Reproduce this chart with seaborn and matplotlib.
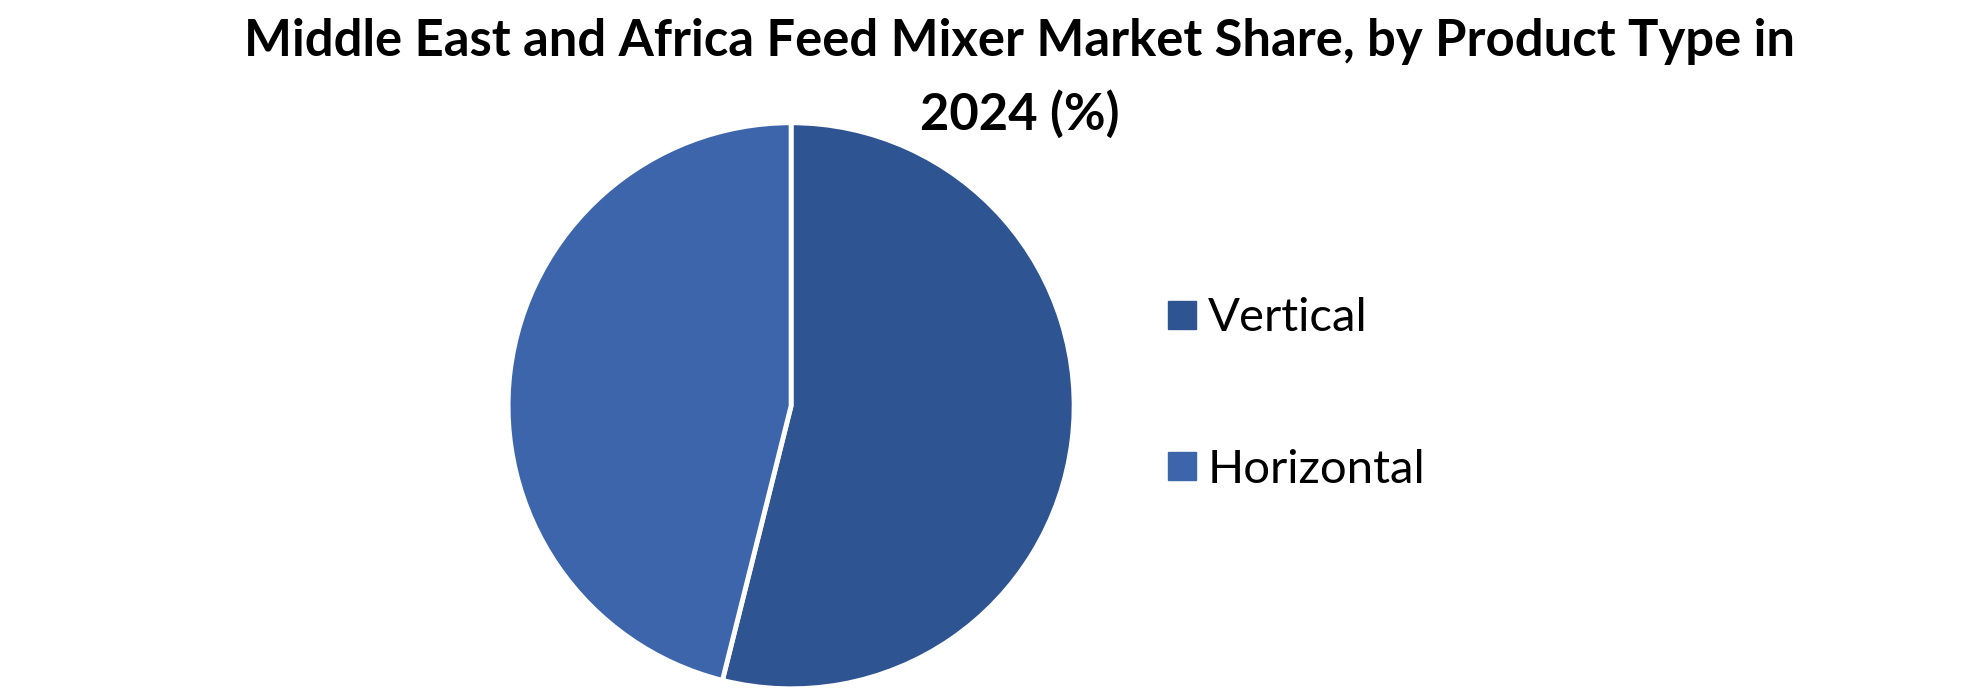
import matplotlib
matplotlib.use('Agg')
import matplotlib.pyplot as plt
import seaborn as sns
from matplotlib.lines import Line2D

sns.set_style('white')
plt.rcParams['font.family'] = ['Lato', 'DejaVu Sans']
plt.rcParams['text.color'] = 'black'

# Market share by product type, 2024 (%)
labels = ['Vertical', 'Horizontal']
shares = [53.9, 46.1]
colors = ['#2F5492', '#3C65AC']

fig = plt.figure(figsize=(19.8, 6.94), dpi=100)
ax = fig.add_axes([0.2566, 0.0075, 0.2859, 0.8156])

ax.pie(shares, colors=colors, startangle=90, counterclock=False,
       wedgeprops={'edgecolor': 'white', 'linewidth': 3.5})
ax.set_xlim(-1.0, 1.0)
ax.set_ylim(-1.0, 1.0)
ax.set_aspect('equal')
for p in ax.patches:
    p.set_clip_on(False)

fig.text(0.515, 0.94, 'Middle East and Africa Feed Mixer Market Share, by Product Type in',
         ha='center', va='center', fontsize=36.5, fontweight='bold')
fig.text(0.515, 0.835, '2024 (%)', ha='center', va='center', fontsize=36.5, fontweight='bold')

handles = [Line2D([0], [0], marker='s', linestyle='none', markersize=20,
                  markerfacecolor=c, markeredgecolor=c) for c in colors]
fig.legend(handles, labels, loc='center left', bbox_to_anchor=(0.5908, 0.4325),
           frameon=False, fontsize=34, labelspacing=2.32, handletextpad=0.31,
           handlelength=0.5, borderpad=0, borderaxespad=0)

fig.savefig('out.png', dpi=100)
